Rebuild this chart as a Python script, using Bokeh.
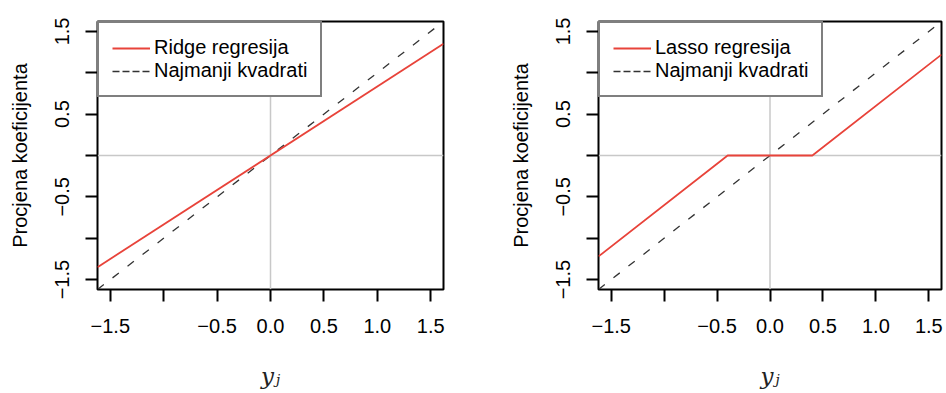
from bokeh.plotting import figure
from bokeh.models import Span, Legend, LegendItem, FixedTicker, Range1d
from bokeh.layouts import row
from bokeh.embed import file_html
from bokeh.resources import INLINE

# ---- data ----
x_limits = [-1.62, 1.62]
y_limits = [-1.62, 1.62]
ls_x = [-1.62, 1.62]
ls_y = [-1.62, 1.62]
ridge_x = [-1.62, 1.62]
ridge_y = [-1.35, 1.35]
lasso_x = [-1.62, -0.4, 0.4, 1.62]
lasso_y = [-1.22, 0.0, 0.0, 1.22]
tick_values = [-1.5, -1.0, -0.5, 0.0, 0.5, 1.0, 1.5]
x_tick_labels = ["\u22121.5", "", "\u22120.5", "0.0", "0.5", "1.0", "1.5"]
y_tick_labels = ["\u22121.5", "", "\u22120.5", "", "0.5", "", "1.5"]
x_title = "y\u2c7c"
y_title = "Procjena koeficijenta"
ls_name = "Najmanji kvadrati"
ridge_name = "Ridge regresija"
lasso_name = "Lasso regresija"

RED = "#e8433a"
FONT = "Liberation Sans"


def panel(est_x, est_y, est_name, width, border_left, border_right):
    p = figure(width=width, height=391, output_backend="svg", toolbar_location=None,
               x_range=Range1d(*x_limits), y_range=Range1d(*y_limits),
               min_border_left=border_left, min_border_right=border_right,
               min_border_top=21, min_border_bottom=100)
    p.grid.visible = False
    p.background_fill_color = "white"
    p.border_fill_color = "white"
    p.outline_line_color = "black"
    p.outline_line_width = 2

    for ax, labels in ((p.xaxis[0], x_tick_labels), (p.yaxis[0], y_tick_labels)):
        ax.ticker = FixedTicker(ticks=tick_values)
        ax.major_label_overrides = {v: l for v, l in zip(tick_values, labels)}
        ax.axis_line_color = None
        ax.major_tick_line_color = "black"
        ax.major_tick_line_width = 2
        ax.major_tick_in = 0
        ax.major_tick_out = 12
        ax.minor_tick_line_color = None
        ax.major_label_text_font = FONT
        ax.major_label_text_font_size = "20px"
        ax.major_label_text_color = "black"
    p.xaxis[0].major_label_standoff = 17
    p.xaxis[0].axis_label = x_title
    p.xaxis[0].axis_label_text_font = "DejaVu Serif"
    p.xaxis[0].axis_label_text_font_size = "23px"
    p.xaxis[0].axis_label_text_font_style = "italic"
    p.xaxis[0].axis_label_text_color = "#222222"
    p.xaxis[0].axis_label_standoff = 27

    p.yaxis[0].major_label_standoff = 16
    p.yaxis[0].major_label_orientation = "vertical"
    p.yaxis[0].axis_label = y_title
    p.yaxis[0].axis_label_text_font = FONT
    p.yaxis[0].axis_label_text_font_size = "20px"
    p.yaxis[0].axis_label_text_font_style = "normal"
    p.yaxis[0].axis_label_text_color = "black"
    p.yaxis[0].axis_label_standoff = 22

    p.add_layout(Span(location=0, dimension="height", line_color="#c8c8c8",
                      line_width=1.5, level="underlay"))
    p.add_layout(Span(location=0, dimension="width", line_color="#c8c8c8",
                      line_width=1.5, level="underlay"))

    p.line(ls_x, ls_y, line_color="#333333", line_width=1.3, line_dash="8 11")
    est = p.line(est_x, est_y, line_color=RED, line_width=1.8)
    # legend key for the dashed line (shorter dashes, as in the legend), not drawn in the plot
    key = p.line(ls_x, ls_y, line_color="#333333", line_width=1.3, line_dash="7 3")
    key.visible = False

    legend = Legend(items=[LegendItem(label=est_name, renderers=[est]),
                           LegendItem(label=ls_name, renderers=[key])],
                    location="top_left", margin=0, padding=13, spacing=0,
                    glyph_width=38, glyph_height=22, label_standoff=4,
                    label_text_font=FONT, label_text_font_size="20px",
                    label_text_color="black", label_height=22,
                    border_line_color="black", border_line_width=2,
                    background_fill_color="white", background_fill_alpha=1.0)
    p.add_layout(legend)
    return p


p1 = panel(ridge_x, ridge_y, ridge_name, 476, 97, 33)
p2 = panel(lasso_x, lasso_y, lasso_name, 468, 122, 3)

layout = row(p1, p2)
open("out.html", "w").write(file_html(layout, INLINE))
